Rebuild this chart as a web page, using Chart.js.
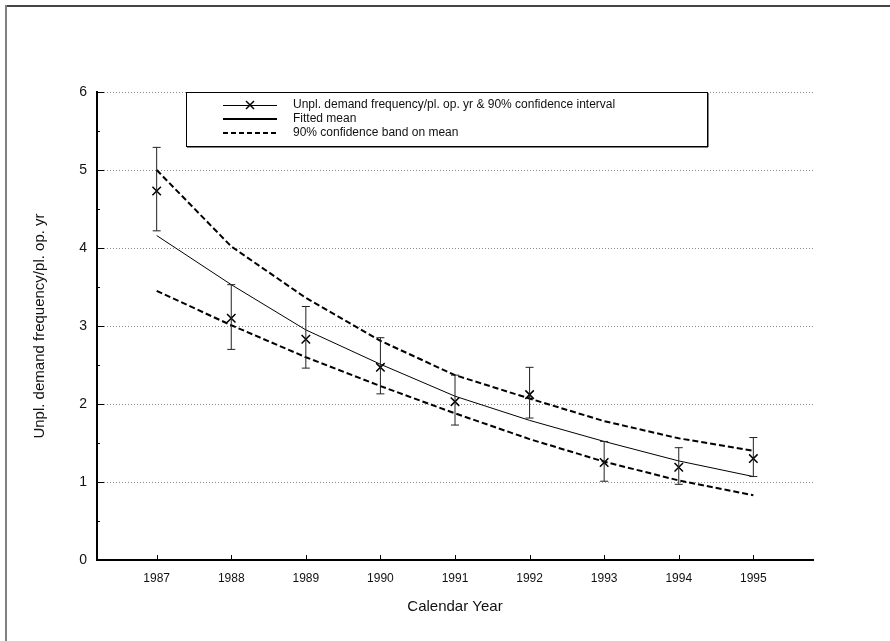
<!DOCTYPE html>
<html>
<head>
<meta charset="utf-8">
<script src="https://cdn.jsdelivr.net/npm/chart.js@4.4.1/dist/chart.umd.min.js"></script>
<style>
  html, body { margin: 0; padding: 0; background: #fff; }
  canvas { display: block; }
</style>
</head>
<body>
<canvas id="myChart" width="890" height="641"></canvas>
<script>
// data
const years = [1987, 1988, 1989, 1990, 1991, 1992, 1993, 1994, 1995];
const observed = [4.73, 3.10, 2.83, 2.47, 2.03, 2.12, 1.25, 1.19, 1.30];
const ciLow = [4.22, 2.70, 2.46, 2.13, 1.73, 1.82, 1.01, 0.97, 1.07];
const ciHigh = [5.29, 3.53, 3.25, 2.85, 2.37, 2.47, 1.52, 1.44, 1.57];
const fittedMean = [4.16, 3.53, 2.95, 2.51, 2.10, 1.79, 1.52, 1.27, 1.07];
const bandUpper = [5.00, 4.02, 3.36, 2.81, 2.37, 2.07, 1.78, 1.56, 1.40];
const bandLower = [3.45, 3.01, 2.60, 2.23, 1.88, 1.55, 1.26, 1.02, 0.83];
const yTicks = [0, 1, 2, 3, 4, 5, 6];

const legendLabels = [
  'Unpl. demand frequency/pl. op. yr & 90% confidence interval',
  'Fitted mean',
  '90% confidence band on mean'
];

const toPoints = (arr) => years.map((x, i) => ({x: x, y: arr[i]}));
const FONT = '"Liberation Sans", Arial, Helvetica, sans-serif';

// frame, inner tick marks, error bars and the boxed legend
const extras = {
  id: 'extras',
  beforeDraw(chart) {
    const c = chart.ctx;
    c.save();
    c.fillStyle = '#fff';
    c.fillRect(0, 0, chart.width, chart.height);
    c.fillStyle = '#444';
    c.fillRect(5, 5, chart.width - 5, 2);
    c.fillStyle = '#808080';
    c.fillRect(5, 5, 2, chart.height - 5);
    c.restore();
  },
  afterDatasetsDraw(chart) {
    const c = chart.ctx;
    const xs = chart.scales.x, ys = chart.scales.y;
    const a = chart.chartArea;
    c.save();
    c.strokeStyle = '#000';
    c.lineWidth = 1;
    // y ticks pointing inward, minor at halves
    for (let v = 0; v <= 6; v += 0.5) {
      const y = Math.round(ys.getPixelForValue(v)) + 0.5;
      const len = Number.isInteger(v) ? 7 : 3;
      c.beginPath();
      c.moveTo(a.left, y);
      c.lineTo(a.left + len, y);
      c.stroke();
    }
    years.forEach((yr) => {
      const x = Math.round(xs.getPixelForValue(yr)) + 0.5;
      c.beginPath();
      c.moveTo(x, a.bottom);
      c.lineTo(x, a.bottom - 5);
      c.stroke();
    });
    // error bars
    c.strokeStyle = '#222';
    years.forEach((yr, i) => {
      const x = xs.getPixelForValue(yr);
      const yl = ys.getPixelForValue(ciLow[i]);
      const yh = ys.getPixelForValue(ciHigh[i]);
      c.beginPath();
      c.moveTo(x, yl); c.lineTo(x, yh);
      c.moveTo(x - 4, yl); c.lineTo(x + 4, yl);
      c.moveTo(x - 4, yh); c.lineTo(x + 4, yh);
      c.stroke();
    });
    c.restore();
  },
  afterDraw(chart) {
    const c = chart.ctx;
    const bx = 186, by = 92, bw = 521, bh = 54;
    c.save();
    c.fillStyle = '#fff';
    c.fillRect(bx, by, bw, bh);
    c.fillStyle = '#000';
    c.fillRect(bx + 1, by + bh, bw, 1.5);
    c.fillRect(bx + bw, by + 1, 1.5, bh);
    c.strokeStyle = '#000';
    c.lineWidth = 1;
    c.strokeRect(bx + 0.5, by + 0.5, bw, bh);
    const rows = [105, 119, 133];
    const x0 = 223, x1 = 277;
    // row 1: thin line with cross
    c.beginPath();
    c.moveTo(x0, rows[0] + 0.5); c.lineTo(x1, rows[0] + 0.5);
    c.stroke();
    c.lineWidth = 1.5;
    c.beginPath();
    c.moveTo(246, rows[0] - 4); c.lineTo(254, rows[0] + 4);
    c.moveTo(254, rows[0] - 4); c.lineTo(246, rows[0] + 4);
    c.stroke();
    // row 2: solid
    c.lineWidth = 2;
    c.beginPath();
    c.moveTo(x0, rows[1]); c.lineTo(x1, rows[1]);
    c.stroke();
    // row 3: dashed
    c.setLineDash([5, 3]);
    c.beginPath();
    c.moveTo(x0, rows[2]); c.lineTo(x1, rows[2]);
    c.stroke();
    c.setLineDash([]);
    c.fillStyle = '#111';
    c.font = '12px ' + FONT;
    c.textBaseline = 'middle';
    legendLabels.forEach((t, i) => c.fillText(t, 293, rows[i]));
    c.restore();
  }
};

const ctx = document.getElementById('myChart');

new Chart(ctx, {
  type: 'scatter',
  data: {
    datasets: [{
      label: legendLabels[0],
      data: toPoints(observed),
      showLine: false,
      pointStyle: 'crossRot',
      pointRadius: 6,
      pointBorderWidth: 1.5,
      borderColor: '#000',
      backgroundColor: '#000'
    }, {
      label: legendLabels[1],
      data: toPoints(fittedMean),
      showLine: true,
      pointRadius: 0,
      borderColor: '#000',
      borderWidth: 1,
      tension: 0
    }, {
      label: legendLabels[2],
      data: toPoints(bandUpper),
      showLine: true,
      pointRadius: 0,
      borderColor: '#000',
      borderWidth: 2,
      borderDash: [6, 3],
      tension: 0
    }, {
      label: legendLabels[2],
      data: toPoints(bandLower),
      showLine: true,
      pointRadius: 0,
      borderColor: '#000',
      borderWidth: 2,
      borderDash: [6, 3],
      tension: 0
    }]
  },
  options: {
    responsive: false,
    animation: false,
    layout: {
      padding: {left: 0, right: 77, top: 92, bottom: 21}
    },
    plugins: {
      legend: {display: false},
      tooltip: {enabled: false}
    },
    scales: {
      x: {
        type: 'linear',
        min: 1986.2,
        max: 1995.8,
        afterFit: (scale) => { scale.height = 60; },
        grid: {display: false, drawTicks: false},
        border: {display: true, color: '#000', width: 2},
        ticks: {
          stepSize: 1,
          includeBounds: false,
          padding: 11,
          color: '#111',
          font: {family: FONT, size: 12},
          callback: (v) => String(v)
        },
        title: {
          display: true,
          text: 'Calendar Year',
          color: '#111',
          font: {family: FONT, size: 15},
          padding: {top: 0, bottom: 4}
        }
      },
      y: {
        min: 0,
        max: 6,
        afterFit: (scale) => { scale.width = 97; },
        afterBuildTicks: (scale) => { scale.ticks = yTicks.map((v) => ({value: v})); },
        grid: {
          drawTicks: false,
          color: '#8a8a8a',
          lineWidth: 1
        },
        border: {display: true, color: '#000', width: 2, dash: [1, 2]},
        ticks: {
          padding: 10,
          color: '#111',
          font: {family: FONT, size: 14}
        },
        title: {
          display: true,
          text: 'Unpl. demand frequency/pl. op. yr',
          color: '#111',
          font: {family: FONT, size: 15},
          padding: {top: 31, bottom: 0}
        }
      }
    }
  },
  plugins: [extras]
});
</script>
</body>
</html>
